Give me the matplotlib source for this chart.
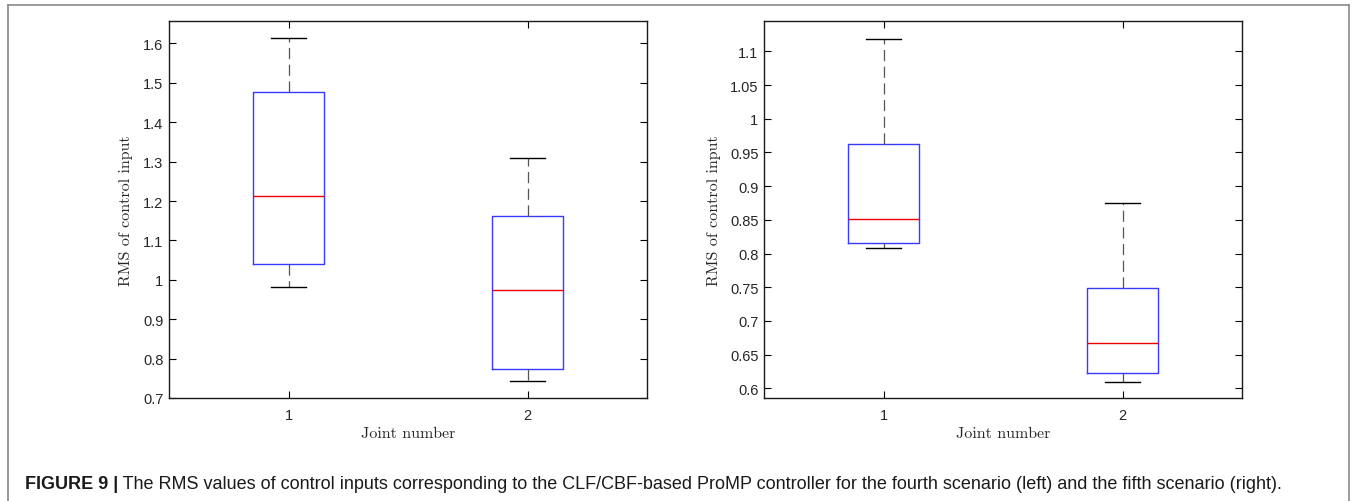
import matplotlib
matplotlib.use("Agg")
import matplotlib.pyplot as plt
from matplotlib.lines import Line2D

plt.rcParams['lines.scale_dashes'] = False

# ---- data ----
joints = [1, 2]
# left panel: fourth scenario
left_whislo = [0.981, 0.742]
left_q1 = [1.039, 0.773]
left_med = [1.214, 0.973]
left_q3 = [1.478, 1.163]
left_whishi = [1.613, 1.308]
left_yticks = [0.7, 0.8, 0.9, 1.0, 1.1, 1.2, 1.3, 1.4, 1.5, 1.6]
left_yticklabels = ['0.7', '0.8', '0.9', '1', '1.1', '1.2', '1.3', '1.4', '1.5', '1.6']
left_ylim = (0.7, 1.657)
# right panel: fifth scenario
right_whislo = [0.808, 0.610]
right_q1 = [0.815, 0.622]
right_med = [0.851, 0.667]
right_q3 = [0.962, 0.749]
right_whishi = [1.119, 0.8745]
right_yticks = [0.6, 0.65, 0.7, 0.75, 0.8, 0.85, 0.9, 0.95, 1.0, 1.05, 1.1]
right_yticklabels = ['0.6', '0.65', '0.7', '0.75', '0.8', '0.85', '0.9', '0.95', '1', '1.05', '1.1']
right_ylim = (0.5856, 1.145)

xlabel = 'Joint number'
ylabel = 'RMS of control input'
caption_bold = 'FIGURE 9 |'
caption_text = (' The RMS values of control inputs corresponding to the CLF/CBF-based ProMP '
                'controller for the fourth scenario (left) and the fifth scenario (right).')

W, H = 1356, 502
fig = plt.figure(figsize=(W / 100, H / 100), dpi=100)

def fx(px):
    return px / W

def fy(py):
    return 1 - py / H

# outer gray frame
frame_kw = dict(color='#8a8a8a', lw=1.2, transform=fig.transFigure)
fig.add_artist(Line2D([fx(8), fx(8)], [fy(6), 0.0], **frame_kw))
fig.add_artist(Line2D([fx(8), fx(1349)], [fy(6), fy(6)], **frame_kw))
fig.add_artist(Line2D([fx(1349), fx(1349)], [fy(6), 0.0], **frame_kw))

tick_font = dict(family=['Liberation Sans Narrow', 'Liberation Sans', 'DejaVu Sans'], size=10.5)
label_font = dict(family=['cmr10', 'DejaVu Serif'], size=11.5)

def draw_panel(left_px, right_px, whislo, q1, med, q3, whishi, yticks, yticklabels, ylim, ylabel_px):
    ax = fig.add_axes([fx(left_px), fy(399), fx(right_px) - fx(left_px), fy(22) - fy(399)])
    stats = []
    for i in range(len(joints)):
        stats.append(dict(whislo=whislo[i], q1=q1[i], med=med[i], q3=q3[i],
                          whishi=whishi[i], fliers=[], label=str(joints[i])))
    ax.bxp(stats, positions=joints, widths=0.3, showfliers=False,
           boxprops=dict(color='#3a3aff', lw=1.0),
           medianprops=dict(color='#ee0000', lw=1.0),
           whiskerprops=dict(color='#555555', lw=0.9, linestyle=(0, (8, 4))),
           capprops=dict(color='black', lw=1.0), capwidths=0.15)
    ax.set_xlim(0.5, 2.5)
    ax.set_ylim(*ylim)
    ax.set_xticks(joints)
    ax.set_xticklabels([str(j) for j in joints], **tick_font, color='#262626')
    ax.set_yticks(yticks)
    ax.set_yticklabels(yticklabels, **tick_font, color='#262626')
    ax.tick_params(direction='in', length=5, width=0.8, top=True, right=True,
                   pad=4, color='black')
    ax.tick_params(axis='x', pad=7)
    for s in ax.spines.values():
        s.set_linewidth(1.0)
        s.set_color('#1a1a1a')
    ax.set_xlabel(xlabel, **label_font, color='#262626', labelpad=3)
    ax.set_ylabel(ylabel, **label_font, color='#262626', va='center')
    ax.yaxis.set_label_coords((ylabel_px - left_px) / (right_px - left_px), 0.5)
    return ax

draw_panel(169, 647, left_whislo, left_q1, left_med, left_q3, left_whishi,
           left_yticks, left_yticklabels, left_ylim, 126)
draw_panel(764, 1242, right_whislo, right_q1, right_med, right_q3, right_whishi,
           right_yticks, right_yticklabels, right_ylim, 714)

cap_font = ['Liberation Sans', 'DejaVu Sans']
t1 = fig.text(fx(25), fy(485), caption_bold, fontsize=13.0, fontweight='bold',
              family=cap_font, va='center', ha='left', color='#1a1a1a')
fig.canvas.draw()
bb = t1.get_window_extent(fig.canvas.get_renderer())
fig.text(bb.x1 / W, fy(485), caption_text, fontsize=13.0, family=cap_font,
         va='center', ha='left', color='#1a1a1a')

fig.savefig('out.png', dpi=100)
